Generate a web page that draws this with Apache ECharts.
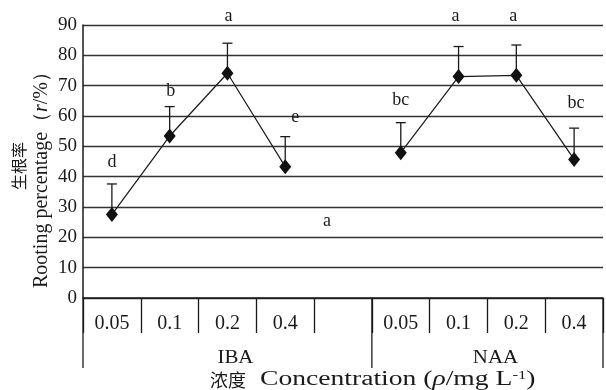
<!DOCTYPE html>
<html><head><meta charset="utf-8">
<script src="https://cdn.jsdelivr.net/npm/echarts@6/dist/echarts.min.js"></script>
<style>html,body{margin:0;padding:0;background:#fff}#c{width:606px;height:390px}</style>
</head><body><div id="c"></div>
<script>
// ---- data ----
const categories = ['0.05', '0.1', '0.2', '0.4', '', '0.05', '0.1', '0.2', '0.4'];
const rooting = [27.5, 53.4, 74.1, 43.3, null, 47.9, 73.0, 73.4, 45.7];
const errorTop = [37.6, 63.1, 84.0, 53.2, null, 57.8, 82.9, 83.4, 56.0];
const letters = ['d', 'b', 'a', 'e', 'a', 'bc', 'a', 'a', 'bc'];
const letterValue = [44.8, 68, 93, 59.6, 25.3, 65.2, 93, 93, 64.2];
const groups = ['IBA', 'NAA'];
const groupStart = [0, 5];
const groupSpan = [5, 4];
const yMin = 0, yMax = 90, yStep = 10;

// ---- styles (not data) ----
const letterDx = [0, 1, 1, 10, -16, 0, -3, -3, 2];
const SERIF = '"Liberation Serif", "Times New Roman", serif';
const CJK = '"Noto Sans CJK SC", sans-serif';
const INK = '#1a1a1a';

const chart = echarts.init(document.getElementById('c'), null, {renderer: 'canvas'});

const errData = [];
rooting.forEach((v, i) => { if (v != null) errData.push([i, v, errorTop[i]]); });
const letterData = letters.map((t, i) => [i, letterValue[i], t, letterDx[i]]);
const groupData = groups.map((g, i) => [groupStart[i], groupSpan[i], g, i === groups.length - 1 ? 1 : 0]);

const option = {
  animation: false,
  backgroundColor: '#fff',
  grid: {left: 83, right: 3, top: 25, bottom: 92, containLabel: false},
  xAxis: {
    type: 'category',
    data: categories,
    boundaryGap: true,
    axisLine: {show: true, lineStyle: {color: INK, width: 1.5}},
    axisTick: {show: true, length: 35, interval: 0, lineStyle: {color: INK, width: 1.3}},
    axisLabel: {interval: 0, margin: 16, fontFamily: SERIF, fontSize: 20, color: INK},
    splitLine: {show: false}
  },
  yAxis: {
    type: 'value',
    min: yMin, max: yMax, interval: yStep,
    axisLine: {show: true, lineStyle: {color: INK, width: 1.5}},
    axisTick: {show: false},
    axisLabel: {margin: 6, fontFamily: SERIF, fontSize: 19, color: INK},
    splitLine: {show: true, lineStyle: {color: '#333', width: 1.3}}
  },
  series: [
    {
      type: 'custom',
      name: 'err',
      data: errData,
      z: 3,
      renderItem: function (params, api) {
        const i = api.value(0);
        const p0 = api.coord([i, api.value(1)]);
        const p1 = api.coord([i, api.value(2)]);
        const st = {stroke: INK, lineWidth: 1.3};
        return {type: 'group', children: [
          {type: 'line', shape: {x1: p0[0], y1: p0[1], x2: p1[0], y2: p1[1]}, style: st},
          {type: 'line', shape: {x1: p1[0] - 5, y1: p1[1], x2: p1[0] + 5, y2: p1[1]}, style: st}
        ]};
      }
    },
    {
      type: 'line',
      data: rooting,
      connectNulls: false,
      symbol: 'diamond',
      symbolSize: [12, 15],
      itemStyle: {color: '#111'},
      lineStyle: {color: INK, width: 1.2},
      z: 5
    },
    {
      type: 'custom',
      name: 'letters',
      data: letterData,
      clip: false,
      z: 6,
      renderItem: function (params, api) {
        const i = api.value(0);
        const p = api.coord([i, api.value(1)]);
        const d = letterData[params.dataIndex];
        return {type: 'text', x: p[0] + d[3], y: p[1],
          style: {text: d[2], fontFamily: SERIF, fontSize: 18, fill: INK, align: 'center', verticalAlign: 'middle'}};
      }
    },
    {
      type: 'custom',
      name: 'groups',
      data: groupData,
      clip: false,
      z: 4,
      renderItem: function (params, api) {
        const s = api.value(0), n = api.value(1);
        const d = groupData[params.dataIndex];
        const bw = api.size([1, 0])[0];
        const base = api.coord([s, 0]);
        const xl = base[0] - bw / 2;
        const xr = xl + bw * n;
        const y0 = base[1], y1 = base[1] + 70;
        const st = {stroke: INK, lineWidth: 1.3};
        const kids = [
          {type: 'line', shape: {x1: xl, y1: y0, x2: xl, y2: y1}, style: st},
          {type: 'text', x: (xl + xr) / 2 + 8, y: y0 + 60, scaleX: 1.1,
            style: {text: d[2], fontFamily: SERIF, fontSize: 19, fill: INK, align: 'center', verticalAlign: 'middle'}}
        ];
        if (d[3]) kids.push({type: 'line', shape: {x1: xr, y1: y0, x2: xr, y2: y1}, style: st});
        return {type: 'group', children: kids};
      }
    }
  ],
  graphic: [
    {type: 'text', x: 19, y: 166, rotation: Math.PI / 2,
      style: {text: '生根率', font: '16px ' + CJK, fill: INK, align: 'center', verticalAlign: 'middle'}},
    {type: 'text', x: 42, y: 175, rotation: Math.PI / 2,
      style: {text: 'Rooting percentage\uFF08{i|r}/%\uFF09', fontFamily: SERIF, fontSize: 20, fill: INK,
        align: 'center', verticalAlign: 'middle',
        rich: {i: {fontFamily: SERIF, fontSize: 20, fontStyle: 'italic', fill: INK}}}},
    {type: 'text', x: 210, y: 380,
      style: {text: '浓度', font: '18px ' + CJK, fill: INK, align: 'left', verticalAlign: 'middle'}},
    {type: 'text', x: 260, y: 380, scaleX: 1.38,
      style: {text: 'Concentration ({i|ρ}/mg L{sup|-1})', fontFamily: SERIF, fontSize: 20, fill: INK,
        align: 'left', verticalAlign: 'middle',
        rich: {
          i: {fontFamily: SERIF, fontSize: 20, fontStyle: 'italic', fill: INK},
          sup: {fontFamily: SERIF, fontSize: 12, fill: INK, padding: [0, 0, 9, 0]}
        }}}
  ]
};
chart.setOption(option);
</script>
</body></html>
